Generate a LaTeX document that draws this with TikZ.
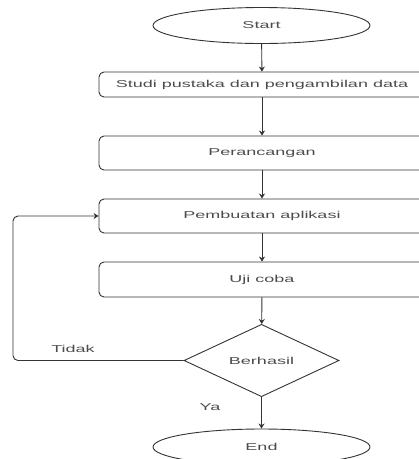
\documentclass[tikz,border=0pt]{standalone}
\usepackage{fontspec}
\setmainfont{Liberation Sans}[FakeStretch=1.8]
\usetikzlibrary{shapes.geometric,arrows.meta}
\begin{document}
\begin{tikzpicture}[x=1pt,y=-1pt,
  every node/.style={font=\fontsize{10}{12}\selectfont, text=black!70},
  line/.style={draw=black!80, line width=0.9pt},
  term/.style={line, ellipse, minimum width=217pt, minimum height=36pt, inner sep=0pt},
  proc/.style={line, rectangle, rounded corners=5pt, minimum width=326pt, inner sep=0pt},
  dec/.style={line, diamond, minimum width=155pt, minimum height=67pt, inner sep=0pt},
  arr/.style={line, -{Stealth[length=5pt,width=6pt]}}]
\useasboundingbox (0,0) rectangle (419,459);
\clip (0,0) rectangle (419,459);
\node[term] (start) at (261.5,25.5) {Start};
\node[proc, minimum height=25pt] (b1) at (262,84.5) {Studi pustaka dan pengambilan data};
\node[proc, minimum height=34pt] (b2) at (262,153) {Perancangan};
\node[proc, minimum height=34pt] (b3) at (262,216) {Pembuatan aplikasi};
\node[proc, minimum height=35pt] (b4) at (262,279.5) {Uji coba};
\node[dec] (dia) at (261.5,360.5) {Berhasil};
\node[term] (end) at (261.5,447) {End};
\coordinate (lft) at (13,0);
\draw[arr] (start) -- (b1);
\draw[arr] (b1) -- (b2);
\draw[arr] (b2) -- (b3);
\draw[arr] (b3) -- (b4);
\draw[arr] (b4) -- (dia);
\draw[arr] (dia) -- (end);
\draw[arr, rounded corners=5pt] (dia.west) -- (dia.west -| lft) -- (b3.west -| lft) -- (b3.west);
\node (tidak) at (73,349) {Tidak};
\node (ya) at (210,407) {Ya};
\end{tikzpicture}
\end{document}
